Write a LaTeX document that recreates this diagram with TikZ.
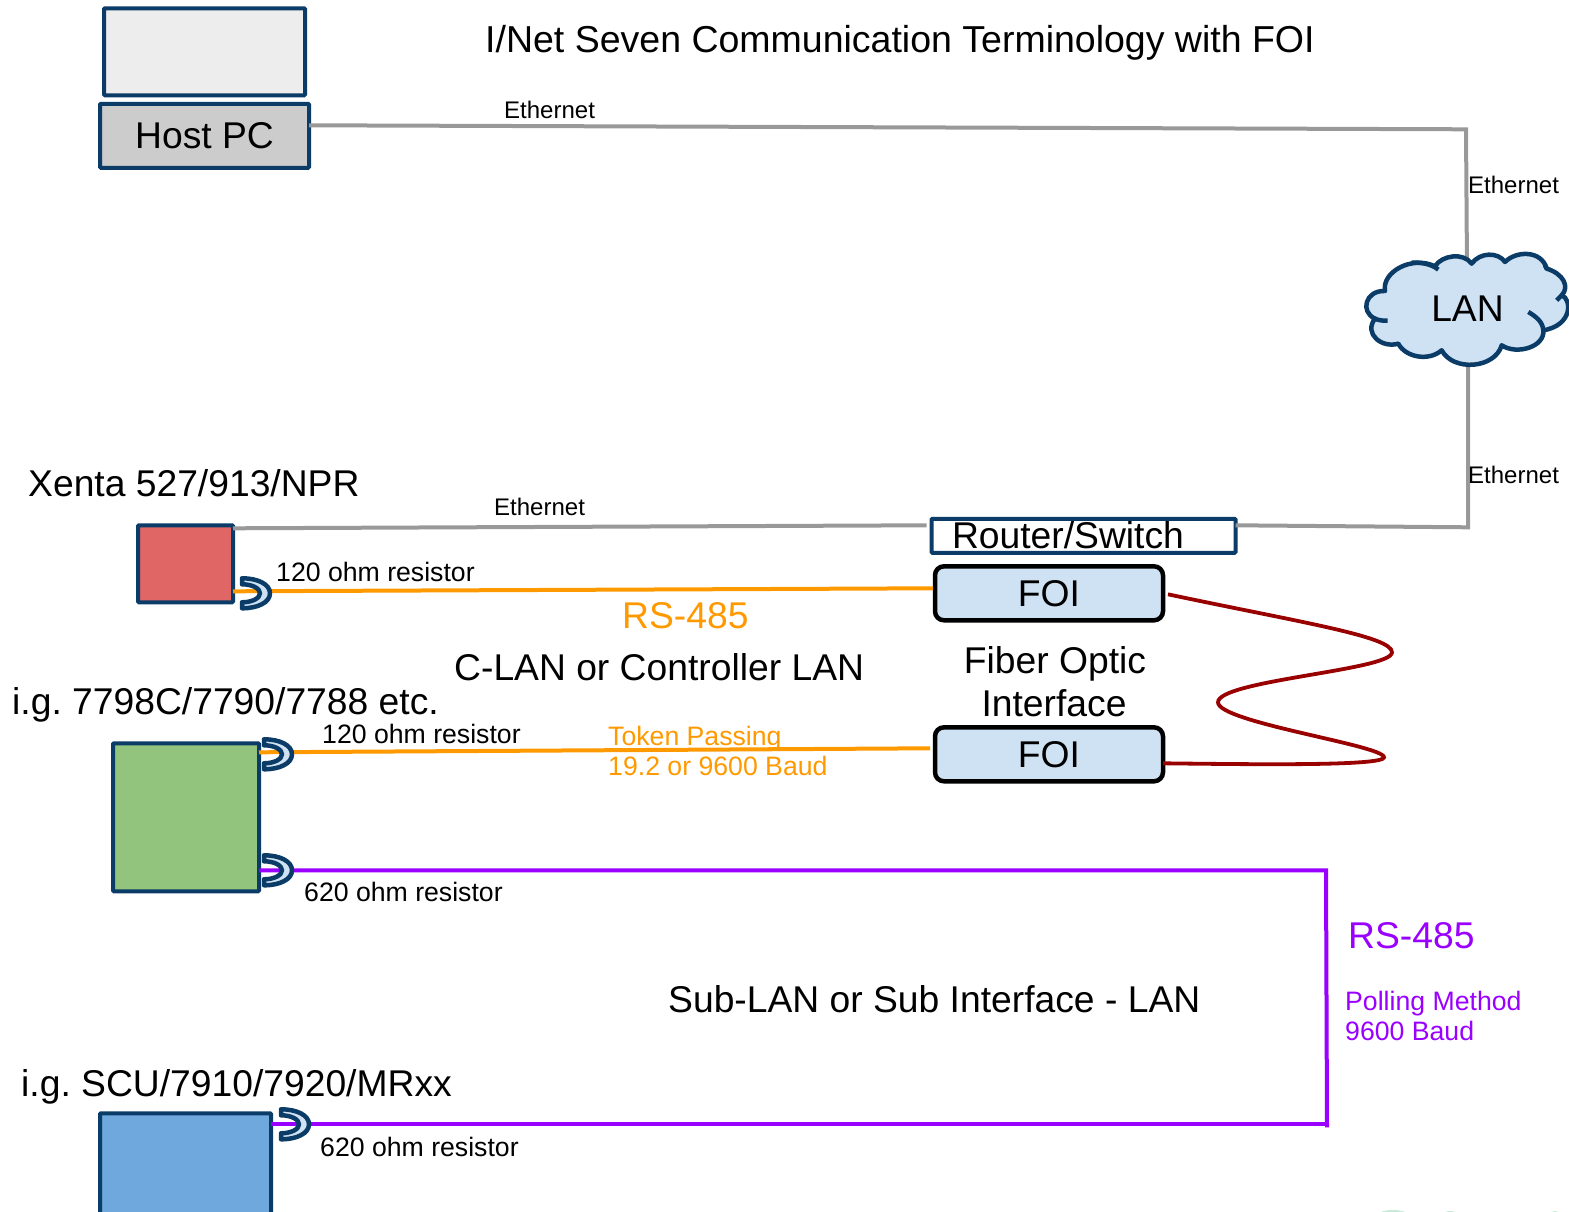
\documentclass[tikz,border=0pt]{standalone}
\usepackage{fontspec}
\setmainfont{Liberation Sans}
\frenchspacing
\definecolor{edgeblue}{HTML}{0B3C68}
\definecolor{paleblue}{HTML}{CFE2F3}
\definecolor{wiregray}{HTML}{999999}
\definecolor{wireorange}{HTML}{FF9900}
\definecolor{wirepurple}{HTML}{9900FF}
\definecolor{fiberred}{HTML}{990000}
\definecolor{palegreen}{HTML}{C8EAD8}
\newcommand{\bigtxt}{\fontsize{37.25}{43}\selectfont}
\newcommand{\midtxt}{\fontsize{26.65}{30}\selectfont}
\newcommand{\smalltxt}{\fontsize{24}{28}\selectfont}
\tikzset{
  box/.style={draw=edgeblue,line width=4pt,rounded corners=1pt,inner sep=0pt,outer sep=0pt},
  foibox/.style={draw=black,line width=4.5pt,rounded corners=9pt,fill=paleblue,inner sep=0pt,outer sep=0pt,minimum width=228pt,minimum height=54pt,font=\bigtxt},
  big/.style={font=\bigtxt,anchor=base west,inner sep=0pt},
  mid/.style={font=\midtxt,anchor=base west,inner sep=0pt},
  small/.style={font=\smalltxt,anchor=base west,inner sep=0pt},
  graywire/.style={draw=wiregray,line width=4pt},
  orangewire/.style={draw=wireorange,line width=4pt},
  purplewire/.style={draw=wirepurple,line width=4pt},
  fiberwire/.style={draw=fiberred,line width=3.8pt},
  resistor/.pic={
    \draw[draw=edgeblue,fill=paleblue,line width=4.5pt,line join=round]
      (2,-15) .. controls (18,-15) and (30,-9) .. (30,0)
      .. controls (30,9) and (18,15) .. (2,15) -- (2,9)
      .. controls (12,9) and (20,5) .. (20,0)
      .. controls (20,-5) and (12,-9) .. (2,-9) -- cycle;
  }
}
\begin{document}
\begin{tikzpicture}[x=1pt,y=-1pt]
\useasboundingbox (0,0) rectangle (1569,1212);
\clip (0,0) rectangle (1569,1212);
\begin{scope}[shift={(0,0.3)}]

% boxes
\node[box,fill=black!7,minimum width=201pt,minimum height=87pt] (screen) at (204.5,51.5) {};
\node[box,fill=black!20,minimum width=209pt,minimum height=64pt,font=\bigtxt] (hostpc) at (204.5,135.5) {Host PC};
\node[box,fill=white,minimum width=304pt,minimum height=34pt] (router) at (1083.5,535.5) {};
\node[font=\bigtxt,inner sep=0pt] (routerlabel) at (1068,534.5) {Router/Switch};
\node[box,fill={rgb,255:red,224;green,102;blue,102},minimum width=95pt,minimum height=77pt] (xenta) at (185.5,563.5) {};
\node[box,fill={rgb,255:red,147;green,196;blue,125},minimum width=146pt,minimum height=148pt] (green) at (186,817) {};
\node[box,fill={rgb,255:red,111;green,168;blue,220},minimum width=171pt,minimum height=103pt] (scu) at (185.5,1164.5) {};
\node[foibox] (foia) at (1049,593) {FOI};
\node[foibox] (foib) at (1049,754) {FOI};

% helper points
\coordinate (netcornera) at (1466,129);
\coordinate (lantop) at (1467,270);
\coordinate (lanbottom) at (1468,355);
\coordinate (netcornerb) at (1468,527);
\coordinate (subcornera) at (1326,870);
\coordinate (subcornerb) at (1327,1127);
\coordinate (subjoin) at (1327,1124);

% ethernet
\draw[graywire] ([yshift=10.5pt]hostpc.east) -- (netcornera) -- (lantop);
\draw[graywire] (lanbottom) -- (netcornerb) -- ([yshift=10.5pt]router.east);
\draw[graywire] ([yshift=35.5pt]xenta.east) -- ([xshift=-5pt,yshift=10.5pt]router.west);

% rs-485 lines
\draw[orangewire] ([yshift=-27.5pt]xenta.east) -- ([xshift=-2pt,yshift=5pt]foia.west);
\draw[orangewire] ([yshift=65pt]green.east) -- ([xshift=-5pt,yshift=6pt]foib.west);
\draw[purplewire] ([yshift=-53pt]green.east) -- (subcornera) -- (subcornerb);
\draw[purplewire] ([yshift=40.5pt]scu.east) -- (subjoin);

% resistors
\pic at (240,593) {resistor};
\pic at (262,754) {resistor};
\pic at (262,870) {resistor};
\pic at (279,1124) {resistor};

% fiber
\draw[fiberwire] ([xshift=5pt,yshift=-1pt]foia.east)
  .. controls (1300,622) and (1392,636) .. (1392,652)
  .. controls (1392,670) and (1218,680) .. (1218,702)
  .. controls (1218,722) and (1384,745) .. (1384,757)
  .. controls (1384,766) and (1250,764) .. ([yshift=-9pt]foib.east);

% cloud
\begin{scope}[shift={(1340,230)},x=0.3333pt,y=-0.3333pt]
\draw[draw=edgeblue,fill=paleblue,line width=4.5pt,line join=round]
  (135,182) .. controls (125,125) and (215,75) .. (285,108)
  .. controls (305,75) and (370,65) .. (395,100)
  .. controls (420,65) and (475,65) .. (495,95)
  .. controls (530,60) and (605,60) .. (620,115)
  .. controls (670,130) and (690,170) .. (665,195)
  .. controls (695,205) and (700,285) .. (610,300)
  .. controls (615,350) and (530,375) .. (485,345)
  .. controls (465,415) and (340,425) .. (305,360)
  .. controls (265,395) and (195,380) .. (175,340)
  .. controls (125,355) and (70,310) .. (105,265)
  .. controls (60,245) and (75,180) .. (135,182) -- cycle;
\draw[draw=edgeblue,line width=4.5pt] (215,97) .. controls (250,95) and (280,105) .. (295,118);
\draw[draw=edgeblue,line width=4.5pt] (105,265) .. controls (115,270) and (130,272) .. (143,271);
\draw[draw=edgeblue,line width=4.5pt] (565,245) .. controls (590,260) and (608,275) .. (610,300);
\draw[draw=edgeblue,line width=4.5pt] (665,195) -- (650,210);
\draw[draw=edgeblue,line width=4.5pt] (620,115) -- (615,105);
\end{scope}
\node[font=\bigtxt,inner sep=0pt] (lan) at (1467.5,308) {LAN};

% text
\node[big] (title) at (485,52.5) {\fontsize{37.5}{43}\selectfont I/Net Seven Communication Terminology with FOI};
\node[small] (etha) at (504,118.5) {Ethernet};
\node[small] (ethb) at (1468,193.5) {Ethernet};
\node[small] (ethc) at (1468,483.5) {Ethernet};
\node[small] (ethd) at (494,515.5) {Ethernet};
\node[big] (xentalabel) at (28,496.5) {Xenta 527/913/NPR};
\node[mid] (resa) at (276,581.5) {120 ohm resistor};
\node[big,text=wireorange] (rsa) at (622,628.5) {RS-485};
\node[big] (clan) at (454,680.5) {C-LAN or Controller LAN};
\node[big,anchor=base] (fibera) at (1055,673.5) {Fiber Optic};
\node[big,anchor=base] (fiberb) at (1054,716.5) {Interface};
\node[big] (greenlabel) at (12,714.5) {i.g. 7798C/7790/7788 etc.};
\node[mid] (resb) at (322,743) {120 ohm resistor};
\node[mid,text=wireorange] (token) at (608,745.5) {Token Passing};
\node[mid,text=wireorange] (baud) at (608,775) {19.2 or 9600 Baud};
\node[mid] (resc) at (304,901) {620 ohm resistor};
\node[big,text=wirepurple] (rsb) at (1348,948) {RS-485};
\node[mid,text=wirepurple] (polling) at (1345,1010) {Polling Method};
\node[mid,text=wirepurple] (baudb) at (1345,1040) {9600 Baud};
\node[big] (sublan) at (668,1012) {Sub-LAN or Sub Interface - LAN};
\node[big] (sculabel) at (21,1096) {i.g. SCU/7910/7920/MRxx};
\node[mid] (resd) at (320,1156) {620 ohm resistor};
\end{scope}

% faint shapes just showing at the bottom edge
\fill[palegreen] (1393,1214) ellipse (14pt and 4pt);
\fill[palegreen] (1450,1214) ellipse (6pt and 3pt);
\fill[palegreen] (1555,1214) ellipse (5pt and 3pt);
\end{tikzpicture}
\end{document}
